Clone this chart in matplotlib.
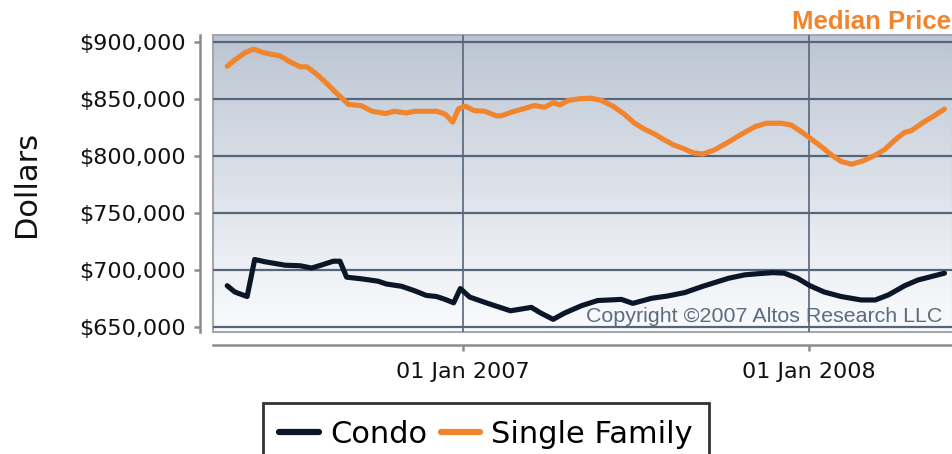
import matplotlib
matplotlib.use("Agg")
import matplotlib.pyplot as plt
import matplotlib.dates as mdates
from matplotlib.patches import Rectangle
import numpy as np
import pandas as pd

# Single family median price (thousands of dollars)
sf_dates = [
    "2006-04-27", "2006-05-05", "2006-05-16", "2006-05-25", "2006-06-04", "2006-06-22",
    "2006-07-02", "2006-07-13", "2006-07-20", "2006-07-29", "2006-08-08", "2006-08-19",
    "2006-08-28", "2006-09-02", "2006-09-15", "2006-09-27", "2006-10-11", "2006-10-20",
    "2006-11-02", "2006-11-11", "2006-12-04", "2006-12-13", "2006-12-21", "2006-12-27",
    "2007-01-03", "2007-01-13", "2007-01-24", "2007-02-05", "2007-02-10", "2007-02-22",
    "2007-03-07", "2007-03-17", "2007-03-28", "2007-04-06", "2007-04-13", "2007-04-22",
    "2007-05-04", "2007-05-16", "2007-05-27", "2007-06-08", "2007-06-20", "2007-07-01",
    "2007-07-12", "2007-07-22", "2007-07-31", "2007-08-11", "2007-08-21", "2007-09-01",
    "2007-09-11", "2007-09-23", "2007-10-08", "2007-10-22", "2007-11-05", "2007-11-17",
    "2007-12-03", "2007-12-13", "2007-12-24", "2008-01-02", "2008-01-14", "2008-01-25",
    "2008-02-04", "2008-02-15", "2008-02-27", "2008-03-11", "2008-03-21", "2008-04-01",
    "2008-04-11", "2008-04-18", "2008-05-02", "2008-05-13", "2008-05-23",
]
sf_price = [
    879, 884.5, 891, 894, 891, 888,
    883, 878.5, 878.5, 873, 865.5, 856.5,
    849.5, 845.5, 844.5, 839.5, 837.5, 839.5,
    838, 839.5, 839.5, 837, 830, 841.5,
    844, 840, 839.5, 835.5, 835.5, 839,
    842, 844.5, 843, 847, 845, 849,
    850.5, 851, 849, 844, 837, 829,
    823.5, 819.5, 815, 810, 807, 803,
    802, 805.5, 812.5, 819.5, 826, 829,
    829, 827.5, 821.5, 816, 808.5, 801,
    795.5, 793, 796, 801, 806, 814.5,
    821, 822.5, 830.5, 836, 841.5,
]

# Condo median price (thousands of dollars)
condo_dates = [
    "2006-04-27", "2006-05-05", "2006-05-18", "2006-05-26", "2006-06-06", "2006-06-27",
    "2006-07-13", "2006-07-25", "2006-08-04", "2006-08-17", "2006-08-24", "2006-08-31",
    "2006-09-16", "2006-10-03", "2006-10-12", "2006-10-28", "2006-11-11", "2006-11-23",
    "2006-12-04", "2006-12-13", "2006-12-22", "2006-12-29", "2007-01-08", "2007-01-27",
    "2007-02-20", "2007-03-14", "2007-03-24", "2007-04-06", "2007-04-18", "2007-05-06",
    "2007-05-23", "2007-06-17", "2007-06-29", "2007-07-19", "2007-08-05", "2007-08-23",
    "2007-09-11", "2007-10-08", "2007-10-25", "2007-11-08", "2007-11-24", "2007-12-06",
    "2007-12-20", "2008-01-02", "2008-01-17", "2008-02-04", "2008-02-25", "2008-03-11",
    "2008-03-25", "2008-04-11", "2008-04-25", "2008-05-09", "2008-05-23",
]
condo_price = [
    686.5, 681, 677, 709.5, 707.5, 704.5,
    704, 702, 704.5, 708, 708, 694,
    692.5, 690.5, 688, 686, 682, 678,
    677, 674.5, 671.5, 684, 676.5, 671,
    664.5, 667.5, 662.5, 657, 662.5, 669,
    673.5, 674.5, 671, 675.5, 677.5, 680.5,
    686, 693, 696, 697, 698, 697.5,
    693, 686.5, 681, 677, 674, 674,
    678.5, 686.5, 691.5, 694.5, 697.5,
]

y_ticks = [650, 700, 750, 800, 850, 900]

ORANGE = "#f0852d"
NAVY = "#0b1628"
GRID = "#56667a"
SPINE = "#8c8c8c"

fig = plt.figure(figsize=(9.53, 4.54), dpi=100)
ax = fig.add_axes([213 / 953, 122 / 454, 740 / 953, 297 / 454])

# gradient background
grad = np.linspace(0, 1, 256).reshape(-1, 1)
top = np.array([0.728, 0.768, 0.822])
bot = np.array([0.980, 0.984, 0.992])
img = top + (bot - top) * grad[:, :, None] ** 0.9
ax.imshow(img, extent=[0, 1, 0, 1], transform=ax.transAxes, aspect="auto", zorder=0)
ax.patch.set_visible(False)
ax.add_patch(Rectangle((0, 0), 1, 1, transform=ax.transAxes, fill=False,
                       edgecolor="#a4a8ae", lw=1.5, zorder=1, clip_on=False))

d_sf = pd.to_datetime(sf_dates)
d_condo = pd.to_datetime(condo_dates)
ax.plot(d_condo, np.array(condo_price) * 1000, color=NAVY, lw=3.7,
        solid_joinstyle="round", solid_capstyle="round", label="Condo", zorder=4)
ax.plot(d_sf, np.array(sf_price) * 1000, color=ORANGE, lw=3.7,
        solid_joinstyle="round", solid_capstyle="round", label="Single Family", zorder=4)

ax.set_xlim(pd.Timestamp("2006-04-12"), pd.Timestamp("2008-06-01"))
ax.set_ylim(645900, 906400)
ax.set_yticks([v * 1000 for v in y_ticks])
ax.yaxis.set_major_formatter(matplotlib.ticker.FuncFormatter(lambda v, p: f"${v:,.0f}"))
ax.set_xticks([pd.Timestamp("2007-01-01"), pd.Timestamp("2008-01-01")])
ax.xaxis.set_major_formatter(mdates.DateFormatter("%d %b %Y"))

ax.grid(True, axis="y", color=GRID, lw=1.6, zorder=2)
ax.grid(True, axis="x", color=GRID, lw=1.2, zorder=2)
ax.set_axisbelow(False)
for ln in ax.get_xgridlines() + ax.get_ygridlines():
    ln.set_zorder(2)

for s in ["top", "right"]:
    ax.spines[s].set_visible(False)
for s in ["left", "bottom"]:
    ax.spines[s].set_position(("outward", 9.4))
    ax.spines[s].set_color(SPINE)
    ax.spines[s].set_linewidth(1.8)
ax.tick_params(axis="both", colors=SPINE, length=4, width=1.8, labelsize=16,
               labelcolor="#111111")
ax.tick_params(axis="y", pad=6)
ax.tick_params(axis="x", pad=8)

fig.text(27 / 953, 1 - 184 / 454, "Dollars", rotation=90, fontsize=22,
         ha="center", va="center", color="#111111")
fig.text(951 / 953, 1 - 22 / 454, "Median Price", fontsize=18.5, fontweight="bold",
         family="Liberation Sans", color=ORANGE, ha="right", va="center")
ax.text(0.986, 0.035, "Copyright \u00a92007 Altos Research LLC", transform=ax.transAxes,
        fontsize=15.4, family="Liberation Sans", color="#5c6b7e", ha="right",
        va="baseline", zorder=5)

leg = fig.legend(loc="upper center", bbox_to_anchor=(486 / 953, 1 - 403 / 454),
                 ncol=2, fontsize=22, frameon=True, fancybox=False,
                 handlelength=1.3, handletextpad=0.35, columnspacing=0.45,
                 borderpad=0.55, borderaxespad=0)
leg.get_frame().set_edgecolor("black")
leg.get_frame().set_linewidth(2)
for h in leg.get_lines():
    h.set_linewidth(4.5)

fig.savefig("out.png", dpi=100)
